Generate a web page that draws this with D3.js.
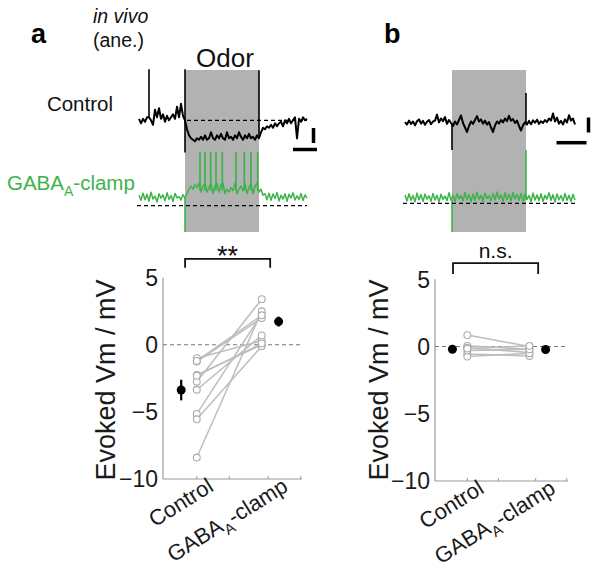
<!DOCTYPE html>
<html><head><meta charset="utf-8">
<script src="https://cdn.jsdelivr.net/npm/d3@7"></script>
<style>
html,body{margin:0;padding:0;background:#fff;}
svg{display:block;font-family:"Liberation Sans",Arial,Helvetica,sans-serif;}
</style></head>
<body>
<svg id="fig" width="600" height="569"></svg>
<script>
// ---------------- DATA ----------------
// Traces (mV, relative to baseline), one sample per time step
const traceCtrlA = [0.5,-1,0.5,-0.5,1,1,0,-1.5,3.5,1, 4,0.5,2,-0.5,1.5,0,1,2,0.5,4.5, 1,5.5,1.5,
  0,-3,-5,-6,-6.5,-7,-6,-6.5,-5.5,-6.5, -5,-6.5,-6,-4,-6,-6.5,-5,-6,-4.5,-6, -6.5,-4,-6,-5.5,-6.5,-5,-6,-4,-5.5,-6.5, -5,-6,-4.5,-6,-5.5,-6.5,-5,-6,
  -4,-2.5,-3,-2,-2.5,-1.5,-2.5,-1,-2,-1, -0.5,-2,0,-1,0.5,-1,0,1,-6,0.5, -0.5,1,0,0.5];
const traceGabaA = [3.5,1.8,4.2,2.0,3.8,1.5,4.5,2.2,3.2,1.2, 4.0,2.5,3.6,1.6,4.3,2.1,3.4,1.4,4.1,2.6, 3.0,1.9,3.7,
  2.5,4.0,5.5,6.5,5.5,7.0,6.0,7.5,4.5,6.5,7.5,4.5,6.0,7.5,4.0,6.5,7.5,4.5,7.0,7.5,4.0,5.5,4.5,6.0,5.0,7.5,4.0,5.5,6.5,5.0,7.5,4.0,6.0,7.5,4.0,6.5,7.5,4.5,5.5,3.5,4.0,
  2.0,4.2,1.8,3.9,2.4,4.4,1.6,3.5,2.2,4.0, 1.5,3.8,2.6,4.3,1.9,3.3,2.1,4.1,1.7,3.6,2.5];
const spikesGabaA = [[30.5, 18], [33, 18], [35.85, 18], [38.5, 18], [41.65, 18], [48.5, 18], [52.65, 18], [56, 18], [59.35, 18]];
const traceCtrlB = [0.3,-0.5,0.8,-0.3,0.5,-0.8,0.6,1.2,-0.2,0.7, -0.6,0.4,1.0,-0.4,0.5,0.8,2.8,0.2,1.5,0.6, 2.0,-0.3,1.0,0.0,-1.0,0.5,-0.5,1.0,2.5,0.0,
  -1.5,-3.0,-1.0,0.5,-0.3,1.0,2.3,0.5,1.2,-0.2, 0.8,-0.5,0.3,-1.5,-3.0,-0.8,0.5,-0.2,1.0,0.2, 1.5,0.6,2.4,0.8,1.3,0.0,0.8,-1.0,-2.5,-0.8,
  0.2,-0.5,0.7,-0.4,0.9,0.1,1.1,-0.3,0.6,0.0, 1.0,0.3,1.5,0.8,3.2,0.5,1.8,-0.2,0.7,-0.5, 1.2,0.2,2.6,0.8,1.5,-0.5];
const traceGabaB = [2.8,0.8,3.2,1.0,2.6,0.5,3.4,1.2,2.9,0.6, 3.1,1.4,2.5,0.7,3.3,1.1,2.7,0.4,3.0,1.3, 2.4,0.9,3.5,1.0,2.8,0.6,3.2,1.5,2.6,0.8,
  3.6,1.2,2.9,0.5,3.1,1.0,3.7,1.3,2.7,0.7, 3.4,1.6,2.5,0.9,3.3,1.1,3.8,1.4,2.8,0.6, 3.5,1.2,3.0,0.8,3.6,1.5,2.9,1.0,3.3,0.7,
  3.1,1.3,2.6,0.5,3.4,1.1,2.8,0.9,3.2,0.6, 2.7,1.4,3.5,1.0,2.9,0.4,3.1,1.2,2.6,0.8, 3.3,1.0,2.7,0.6,3.0,1.1];
// odor period (sample index) and stimulus artifacts / spikes [time, from mV, to mV]
const odorA = [23, 60];
const odorB = [23.5, 60.5];
const artCtrlA = [[5, 1, 17], [23, 17, -10.7], [60, 16.7, -6]];
const artGabaA = [[23, 2.5, -8.8]];
const artCtrlB = [[23.5, 0, -9], [60.5, 0, 10]];
const artGabaB = [[23.5, 1, -9.6], [60.5, 1, 17.8]];

// Evoked Vm (mV), paired cells
const ctrlA = [-1.0, -1.25, -2.25, -2.75, -3.35, -5.15, -5.55, -8.4, -1.2, -2.3];
const gabaA = [0.3, 2.0, 0.0, 3.4, 0.7, 2.3, -0.1, 2.5, 2.2, 0.1];
const meanA = [-3.37, 1.73];
const semA = [0.77, 0.37];
const ctrlB = [0.85, 0.05, -0.1, -0.55, -0.75, -0.3, -0.15];
const gabaB = [0.0, -0.2, -0.45, -0.7, -0.5, -0.2, 0.05];
const meanB = [-0.2, -0.22];
const semB = [0.1, 0.1];

const yTicks = [5, 0, -5, -10];
const xTicks = [1, 1.5, 2.1, 2.6];
const xCats = ["Control", "GABA_A-clamp"];
const catLabelPos = [1, 2.15];
const catPos = [1, 2];
const meanPos = [0.76, 2.26];

// ---------------- DRAW ----------------
const svg = d3.select("#fig");
const GREEN = "#3cb44b";

function trace(g, data, x, y, color, w) {
  g.append("path").datum(data)
    .attr("d", d3.line().x((d,i)=>x(i)).y(d=>y(d)))
    .attr("fill","none").attr("stroke",color).attr("stroke-width",w).attr("stroke-linejoin","round");
}
function vlines(g, arts, x, y, color, w) {
  g.selectAll(null).data(arts).enter().append("line")
    .attr("x1",d=>x(d[0])).attr("x2",d=>x(d[0]))
    .attr("y1",d=>y(d[1])).attr("y2",d=>y(d[2]))
    .attr("stroke",color).attr("stroke-width",w);
}

function tracePanel(opt) {
  const g = svg.append("g");
  const x = d3.scaleLinear().domain([0, opt.n-1]).range(opt.xr);
  g.append("rect").attr("x", x(opt.odor[0])).attr("width", x(opt.odor[1]) - x(opt.odor[0]))
    .attr("y", 70).attr("height", 162).attr("fill", "#b2b2b2");
  const yC = d3.scaleLinear().domain([0, 1]).range([opt.c0, opt.c0 - 3]);
  const yG = d3.scaleLinear().domain([0, 1]).range([opt.g0, opt.g0 - 3]);
  trace(g, opt.gaba, x, yG, GREEN, 1.5);
  vlines(g, opt.artG, x, yG, GREEN, 1.6);
  if (opt.spikes) vlines(g, opt.spikes.map(s => [s[0], 5, s[1]]), x, yG, GREEN, 1.7);
  trace(g, opt.ctrl, x, yC, "#000", 2);
  vlines(g, opt.artC, x, yC, "#000", 1.6);
  if (opt.ctrlDash) {
    g.append("line").attr("x1", opt.ctrlDash[0]).attr("x2", opt.ctrlDash[1])
      .attr("y1", yC(0)).attr("y2", yC(0)).attr("stroke","#000").attr("stroke-width",1.2).attr("stroke-dasharray","4,3");
  }
  g.append("line").attr("x1", opt.xr[0]-2).attr("x2", opt.xr[1])
    .attr("y1", yG(0)).attr("y2", yG(0)).attr("stroke","#000").attr("stroke-width",1.2).attr("stroke-dasharray","4,3");
  const sb = opt.sb;
  g.append("line").attr("x1", sb.vx).attr("x2", sb.vx).attr("y1", sb.vy).attr("y2", sb.vy + 5*3)
    .attr("stroke","#000").attr("stroke-width",3.5);
  g.append("line").attr("x1", sb.hx).attr("x2", sb.hx + sb.hlen).attr("y1", sb.hy).attr("y2", sb.hy)
    .attr("stroke","#000").attr("stroke-width",3.5);
}

tracePanel({n: traceCtrlA.length, xr:[139, 307], odor: odorA, ctrl: traceCtrlA, gaba: traceGabaA, spikes: spikesGabaA,
  artC: artCtrlA, artG: artGabaA, c0: 120.3, g0: 205.7, ctrlDash:[187, 307],
  sb:{vx:313.5, vy:128, hx:293, hy:149.5, hlen:24}});
tracePanel({n: traceCtrlB.length, xr:[405, 575], odor: odorB, ctrl: traceCtrlB, gaba: traceGabaB, spikes: null,
  artC: artCtrlB, artG: artGabaB, c0: 123, g0: 203.3, ctrlDash:null,
  sb:{vx:588.5, vy:117.5, hx:556.5, hy:142.7, hlen:30}});

// trace texts
svg.append("text").attr("x", 31).attr("y", 43).attr("font-size", 27).attr("font-weight","bold").text("a");
svg.append("text").attr("x", 384).attr("y", 43).attr("font-size", 27).attr("font-weight","bold").text("b");
svg.append("text").attr("x", 93).attr("y", 23).attr("font-size", 19.5).attr("font-style","italic").attr("fill","#111").text("in vivo");
svg.append("text").attr("x", 93).attr("y", 47).attr("font-size", 19.5).attr("fill","#111").text("(ane.)");
svg.append("text").attr("x", 113).attr("y", 111).attr("font-size", 20.5).attr("text-anchor","end").attr("fill","#111").text("Control");
const gt = svg.append("text").attr("x", 7).attr("y", 190).attr("font-size", 20.5).attr("fill", GREEN);
gt.append("tspan").text("GABA");
gt.append("tspan").attr("font-size", 14).attr("dy", 6).text("A");
gt.append("tspan").attr("dy", -6).text("-clamp");
svg.append("text").attr("x", 225).attr("y", 67).attr("font-size", 26).attr("text-anchor","middle").attr("fill","#111").text("Odor");

// ---------------- SCATTER PANELS ----------------
function catLabel(sel, label, fs) {
  if (label.indexOf("_") >= 0) {
    const [a, rest] = label.split("_");
    sel.append("tspan").text(a);
    sel.append("tspan").attr("font-size", fs*0.68).attr("dy", fs*0.28).text(rest[0]);
    sel.append("tspan").attr("dy", -fs*0.28).text(rest.slice(1));
  } else sel.text(label);
}

function scatterPanel(opt) {
  const g = svg.append("g");
  const x = d3.scaleLinear().domain([0.48, 2.62]).range(opt.xr);
  const y = d3.scaleLinear().domain([-10, 5]).range(opt.yr);
  g.append("line").attr("x1", opt.xr[0]).attr("x2", opt.xr[0]).attr("y1", y(-10)).attr("y2", y(5)).attr("stroke","#9a9a9a").attr("stroke-width",1.2);
  g.append("line").attr("x1", opt.xr[0]).attr("x2", opt.xr[1]).attr("y1", y(-10)).attr("y2", y(-10)).attr("stroke","#9a9a9a").attr("stroke-width",1.2);
  g.selectAll(null).data(xTicks).enter().append("line")
    .attr("x1", d=>x(d)).attr("x2", d=>x(d)).attr("y1", y(-10)).attr("y2", y(-10)-3).attr("stroke","#9a9a9a");
  g.selectAll(null).data(yTicks).enter().append("text")
    .attr("x", opt.xr[0]-5).attr("y", d=>y(d)).attr("dy","0.36em").attr("text-anchor","end")
    .attr("font-size", 23).attr("fill","#1a1a1a").text(d => d < 0 ? "\u2212" + Math.abs(d) : d);
  catLabelPos.forEach((t, i) => {
    const tx = g.append("text").attr("transform", `translate(${x(t)+18},${y(-10)+11}) rotate(-32)`)
      .attr("text-anchor","end").attr("font-size", 22).attr("fill","#1a1a1a");
    catLabel(tx, xCats[i], 22);
  });
  g.append("text").attr("transform", `translate(${opt.ylx},380) rotate(-90)`).attr("text-anchor","middle")
    .attr("dy","0.35em").attr("font-size", 27).attr("fill","#1a1a1a").text("Evoked Vm / mV");
  g.append("line").attr("x1", opt.xr[0]).attr("x2", opt.xr[1]).attr("y1", y(0)).attr("y2", y(0))
    .attr("stroke","#777").attr("stroke-width",1.1).attr("stroke-dasharray","4,3");
  const pairs = opt.ctrl.map((c,i)=>[c, opt.gaba[i]]);
  g.selectAll(null).data(pairs).enter().append("line")
    .attr("x1", x(catPos[0])).attr("x2", x(catPos[1])).attr("y1", d=>y(d[0])).attr("y2", d=>y(d[1]))
    .attr("stroke","#bdbdbd").attr("stroke-width",1.5);
  [opt.ctrl, opt.gaba].forEach((arr, k) => {
    g.selectAll(null).data(arr).enter().append("circle")
      .attr("cx", x(catPos[k])).attr("cy", d=>y(d)).attr("r", 3.4)
      .attr("fill","#fff").attr("stroke","#aaaaaa").attr("stroke-width",1.1);
  });
  opt.mean.forEach((m, k) => {
    g.append("line").attr("x1", x(meanPos[k])).attr("x2", x(meanPos[k]))
      .attr("y1", y(m - opt.sem[k])).attr("y2", y(m + opt.sem[k])).attr("stroke","#000").attr("stroke-width",2.2);
    g.append("circle").attr("cx", x(meanPos[k])).attr("cy", y(m)).attr("r", 4.5).attr("fill","#000");
  });
  const b = opt.br;
  g.append("path").attr("d", `M${x(b[0])},${y(b[3])} V${y(b[2])} H${x(b[1])} V${y(b[3])}`)
    .attr("fill","none").attr("stroke","#111").attr("stroke-width",1.8);
  g.append("text").attr("x", (x(b[0])+x(b[1]))/2).attr("y", opt.sigY).attr("text-anchor","middle")
    .attr("font-size", opt.sigFs).attr("fill","#111").text(opt.sig);
}

scatterPanel({xr:[163, 302], yr:[479, 277.7], ylx:106, ctrl: ctrlA, gaba: gabaA, mean: meanA, sem: semA,
  br:[0.82, 2.13, 6.4, 5.75], sig:"**", sigY: 265, sigFs: 27});
scatterPanel({xr:[435, 568], yr:[481, 279.3], ylx:379, ctrl: ctrlB, gaba: gabaB, mean: meanB, sem: semB,
  br:[0.77, 2.14, 6.2, 5.4], sig:"n.s.", sigY: 258, sigFs: 21});
</script>
</body></html>
